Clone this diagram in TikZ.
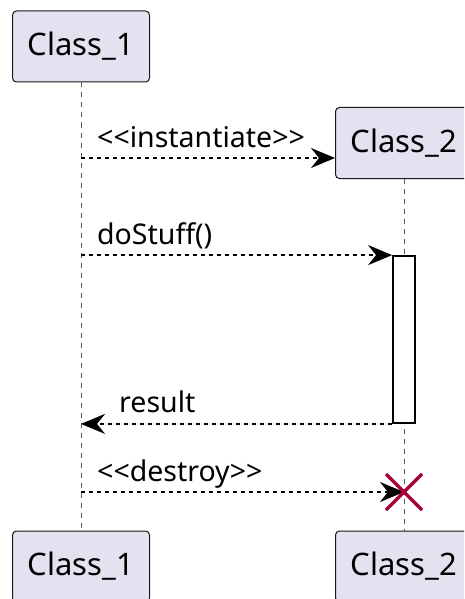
\documentclass[tikz,border=0pt]{standalone}
\usepackage{fontspec}
\newfontfamily\umlfont{Noto Sans}
\usetikzlibrary{arrows.meta, positioning}
\definecolor{partfill}{HTML}{E2E2F0}
\definecolor{partline}{HTML}{181818}
\definecolor{killred}{HTML}{A80036}
\tikzset{
    part/.style={draw=partline, fill=partfill, rounded corners=4pt, line width=1pt,
        minimum width=137pt, minimum height=71pt, font=\umlfont\fontsize{31}{36}\selectfont},
    life/.style={draw=black!65, line width=1pt, dash pattern=on 5pt off 5pt},
    msg/.style={line width=2pt, dash pattern=on 4pt off 4pt,
        -{Stealth[length=24pt, width=20pt, inset=8pt]}},
    lbl/.style={anchor=base west, inner sep=0pt, font=\umlfont\fontsize{28.5}{34}\selectfont},
    actbox/.style={draw, line width=1.8pt, fill=white, inner sep=0pt,
        minimum width=22pt, minimum height=167pt},
    killmark/.style={draw=killred, line width=3.5pt}
}

\begin{document}
\begin{tikzpicture}[x=1pt, y=-1pt]
    \useasboundingbox (0,0) rectangle (464,599);
    \clip (0,0) rectangle (464,599);

    \node[part] (c1top) at (81,46.5) {Class\_1};
    \node[part] (c2top) at (404,143) {Class\_2};
    \node[part] (c1bot) at (81,566.5) {Class\_1};
    \node[part] (c2bot) at (404,566.5) {Class\_2};

    \draw[life] (c1top) -- (c1bot);
    \draw[life] (c2top) -- (c2bot);

    \node[actbox] (act) at (404,339.5) {};
    \coordinate (kill) at (404,492);

    \draw[msg] (c1top |- 0,158) -- (c2top.west |- 0,158);
    \node[lbl] (instlbl) at (97,147) {<<instantiate>>};

    \draw[msg] (c1top |- act.north) -- (act.north west);
    \node[lbl] (stufflbl) at (97,244) {doStuff()};

    \draw[msg] (act.south west) -- (c1top |- act.south);
    \node[lbl] (reslbl) at (119,412) {result};

    \draw[msg] (c1top |- kill) -- (kill);
    \node[lbl] (destlbl) at (97,481) {<<destroy>>};

    \draw[killmark] (kill) ++(-18,-18) -- ++(36,36) (kill) ++(-18,18) -- ++(36,-36);
\end{tikzpicture}
\end{document}
